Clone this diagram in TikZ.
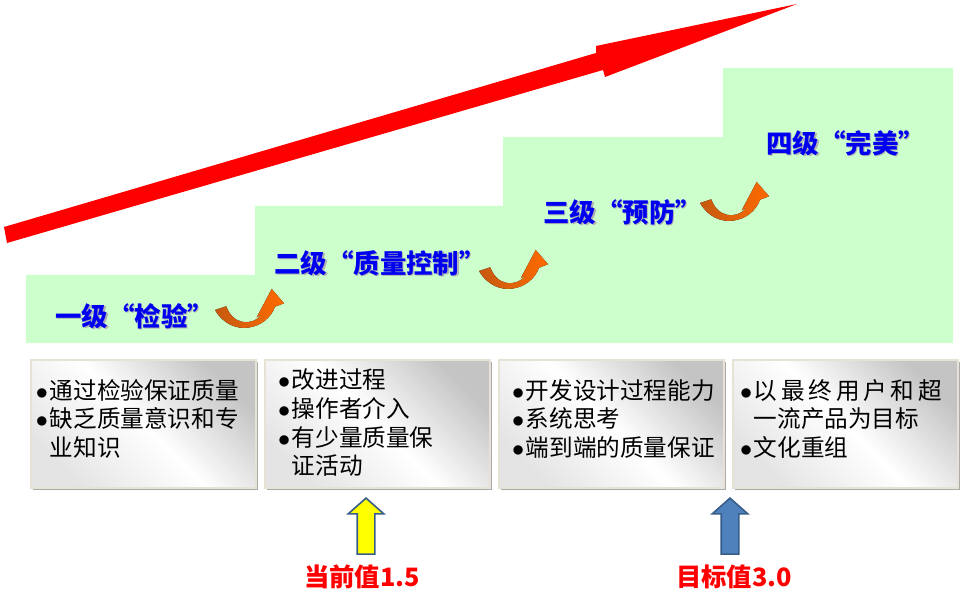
\documentclass[tikz,border=0pt]{standalone}
\usepackage{fontspec}
\setmainfont{Noto Sans CJK SC}
\usetikzlibrary{positioning,shapes.arrows,shadows}
\definecolor{stair}{HTML}{CCFFCC}
\definecolor{levelblue}{HTML}{0000F0}
\definecolor{trend}{HTML}{FF0000}
\definecolor{curltail}{HTML}{C55A11}
\definecolor{curlhead}{HTML}{FF6A00}
\definecolor{boxgray}{HTML}{C4C4C4}
\definecolor{boxrim}{HTML}{E6E2D6}
\definecolor{outline}{HTML}{385D8A}
\definecolor{target}{HTML}{4F81BD}
\definecolor{current}{HTML}{FFFF00}

\newcommand{\shadowed}[1]{\makebox[0pt][l]{\hspace{0.35mm}\raisebox{-0.35mm}{\color{black!30}#1}}#1}
\newcommand{\oq}{\makebox[1em][r]{“}}
\newcommand{\cq}{\makebox[1em][l]{”}}
\newcommand{\bul}{\makebox[0.66em][c]{$\bullet$}}
\newcommand{\ind}{\hspace*{0.66em}}

\begin{document}
\begin{tikzpicture}[
  x=0.25mm, y=-0.25mm,
  level/.style={text=levelblue, inner sep=0, anchor=west,
                font=\fontsize{18.8}{20}\selectfont\bfseries},
  panel/.style={draw=boxrim, line width=0.5mm,
                top color=boxgray, bottom color=boxgray!45,
                middle color=white, shading angle=-45,
                minimum width=56.25mm, minimum height=32mm,
                drop shadow={shadow xshift=0.6mm, shadow yshift=-0.6mm,
                             fill=black!55, opacity=0.6}},
  items/.style={align=left, inner sep=0,
                font=\fontsize{16.8}{20.3}\selectfont},
  uparrow/.style={single arrow, shape border rotate=90,
                  draw=outline, line width=0.4mm,
                  inner sep=2mm, minimum height=14mm,
                  single arrow head extend=2.25mm,
                  single arrow tip angle=97},
  valuelab/.style={text=trend, inner sep=0,
                   font=\fontsize{18}{20}\selectfont\bfseries},
]
\useasboundingbox (0,0) rectangle (972,603);

% staircase
\fill[stair] (26,343) -- (26,275) -- (255,275) -- (255,206) -- (503,206)
  -- (503,137) -- (723,137) -- (723,68) -- (953,68) -- (953,343) -- cycle;

% big trend arrow
\fill[trend] (4,227) -- (7,243) -- (603,70) -- (605,77) -- (797,4)
  -- (596,46) -- (596,53) -- cycle;

% level names
\node[level] (lv1) at (55,317) {\shadowed{一级\oq 检验\cq}};
\node[level] (lv2) at (274,264) {\shadowed{二级\oq 质量控制\cq}};
\node[level] (lv3) at (543,213) {\shadowed{三级\oq 预防\cq}};
\node[level] (lv4) at (766,144) {\shadowed{四级\oq 完美\cq}};

% curled arrows between the levels
\foreach \tx/\ty in {215/310, 479/271, 700/203}
  \fill[left color=curltail, right color=curlhead, shift={(\tx,\ty)}]
    (0,0) -- (11.3,-3.7) .. controls (17.3,14) and (35.7,17.3) .. (46.7,4.7)
    -- (41.7,7.3) -- (56.7,-21) -- (69,-6.7) -- (60,-3.3)
    .. controls (52.3,19) and (17.3,29) .. (0,0) -- cycle;

% panels
\node[panel] (b1) at (143.5,424) {};
\node[panel] (b2) at (377.5,424) {};
\node[panel] (b3) at (611.5,424) {};
\node[panel] (b4) at (845.5,424) {};

\node[items, right=1mm of b1.west, yshift=1.3mm] (t1)
  {\bul 通过检验保证质量\\ \bul 缺乏质量意识和专\\ \ind 业知识};
\node[items, right=3mm of b2.west, yshift=0.3mm] (t2)
  {\bul 改进过程\\ \bul 操作者介入\\ \bul 有少量质量保\\ \ind 证活动};
\node[items, right=3mm of b3.west, yshift=1.3mm] (t3)
  {\bul 开发设计过程能力\\ \bul 系统思考\\ \bul 端到端的质量保证};
\node[items, right=1.5mm of b4.west, yshift=1.3mm] (t4)
  {\bul \makebox[47mm][s]{以\hfil 最\hfil 终\hfil 用\hfil 户\hfil 和\hfil 超}\\
   \ind 一流产品为目标\\ \bul 文化重组};

% current and target values
\node[uparrow, fill=current] (now) at (366,530) {};
\node[uparrow, fill=target] (goal) at (730,530) {};
\node[valuelab, below=2.5mm of now, xshift=-1mm] (curval) {当前值1.5};
\node[valuelab, below=2.5mm of goal, xshift=1mm] (goalval) {目标值3.0};
\end{tikzpicture}
\end{document}
